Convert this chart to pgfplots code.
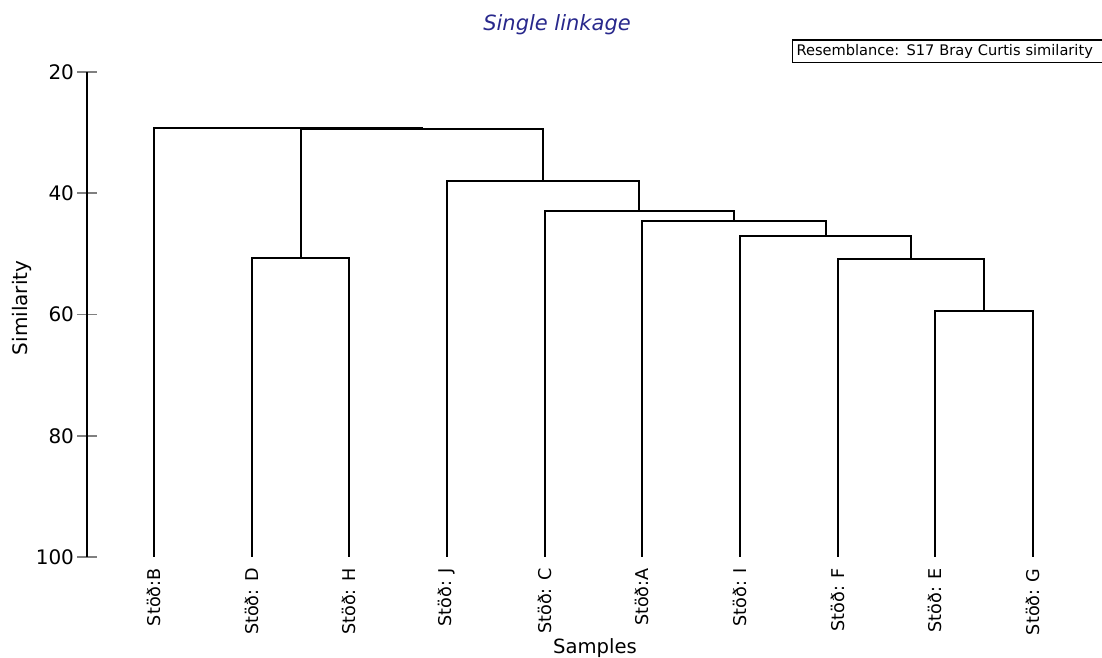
\documentclass[border=0pt]{standalone}
\usepackage{fontspec}
\setmainfont{DejaVu Sans}
\usepackage{pgfplots}
\pgfplotsset{compat=1.18}
\definecolor{titleblue}{RGB}{40,40,140}
\tikzset{dend/.style={black, line width=1pt, mark=none, solid}}
\begin{document}
\begin{tikzpicture}
\begin{axis}[
  scale only axis,
  width=507.5pt, height=242.5pt,
  xmin=0.314, xmax=10.706,
  ymin=20, ymax=100,
  y dir=reverse,
  clip=false,
  axis y line*=left,
  axis x line*=bottom,
  x axis line style={draw=none},
  y axis line style={line width=1pt},
  xtick={1,...,10},
  xticklabels={Stöð:B, Stöð: D, Stöð: H, Stöð: J, Stöð: C, Stöð:A, Stöð: I, Stöð: F, Stöð: E, Stöð: G},
  xtick style={draw=none},
  xticklabel style={rotate=90, anchor=east, inner sep=0.5pt, font=\fontsize{8.8}{10}\selectfont},
  ytick={20,40,60,80,100},
  tick align=center,
  major tick length=10pt,
  ytick style={line width=0.9pt},
  yticklabel style={xshift=2pt, font=\fontsize{10}{12}\selectfont},
  /pgf/number format/assume math mode=true,
  xlabel={Samples},
  xlabel style={at={(axis cs:5.515,115.0)}, anchor=center, font=\fontsize{9.8}{12}\selectfont},
  ylabel={Similarity},
  ylabel style={at={(axis cs:-0.351,58.9)}, anchor=center, font=\fontsize{10}{12}\selectfont},
]
% leaves: B D H J C A I F E G at x = 1..10
\addplot[dend] coordinates {(9,100) (9,59.37) (10,59.37) (10,100)};
\addplot[dend] coordinates {(8,100) (8,50.85) (9.5,50.85) (9.5,59.37)};
\addplot[dend] coordinates {(7,100) (7,47.13) (8.75,47.13) (8.75,50.85)};
\addplot[dend] coordinates {(6,100) (6,44.58) (7.875,44.58) (7.875,47.13)};
\addplot[dend] coordinates {(5,100) (5,42.88) (6.9375,42.88) (6.9375,44.58)};
\addplot[dend] coordinates {(4,100) (4,37.98) (5.96875,37.98) (5.96875,42.88)};
\addplot[dend] coordinates {(2,100) (2,50.68) (3,50.68) (3,100)};
\addplot[dend] coordinates {(2.5,50.68) (2.5,29.40) (4.984,29.40) (4.984,37.98)};
\addplot[dend] coordinates {(1,100) (1,29.19) (3.742,29.19) (3.742,29.40)};
\node[font=\fontsize{10.5}{12}\selectfont\itshape, text=titleblue] at (axis cs:5.126,12.2) {Single linkage};
\node[draw=black, line width=0.6pt, anchor=west, inner sep=2pt,
      minimum height=11pt, text width=152pt, align=left,
      font=\fontsize{7.3}{8}\selectfont] at (axis cs:7.532,16.54)
      {Resemblance: S17 Bray Curtis similarity};
\coordinate (bbsw) at (axis cs:-0.577,116.66);
\coordinate (bbne) at (axis cs:10.706,8.12);
\end{axis}
\pgfresetboundingbox
\path[use as bounding box] (bbsw) rectangle (bbne);
\end{tikzpicture}
\end{document}
